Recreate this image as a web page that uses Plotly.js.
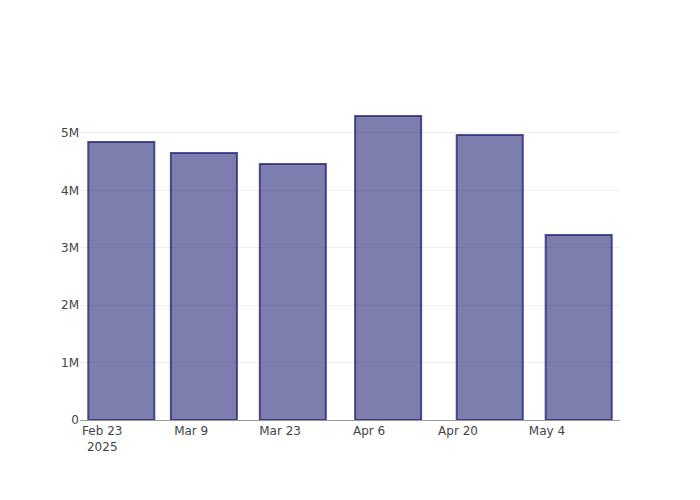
<!DOCTYPE html>
<html>
<head>
<meta charset="utf-8">
<script src="https://cdn.plot.ly/plotly-3.0.1.min.js"></script>
<style>html,body{margin:0;padding:0;background:#fff;}#chart{width:700px;height:500px;}</style>
</head>
<body>
<div id="chart"></div>
<script>
var dates = ['2025-02-26', '2025-03-11', '2025-03-25', '2025-04-09', '2025-04-25', '2025-05-09'];
var values = [4843000, 4650000, 4460000, 5296000, 4965000, 3223000];

var trace = {
  type: 'bar',
  x: dates,
  y: values,
  marker: {
    color: 'rgba(40,40,120,0.6)',
    line: {color: 'rgba(40,40,120,0.8)', width: 2}
  }
};

var layout = {
  width: 700,
  height: 500,
  margin: {l: 80, r: 80, t: 100, b: 80},
  paper_bgcolor: '#fff',
  plot_bgcolor: '#fff',
  font: {family: '"DejaVu Sans", sans-serif', size: 12, color: '#444'},
  xaxis: {
    type: 'date',
    showgrid: false,
    showline: true,
    linecolor: '#999',
    linewidth: 1,
    ticks: '',
    dtick: 14 * 24 * 3600 * 1000,
    tick0: '2025-02-23'
  },
  yaxis: {
    showgrid: true,
    gridcolor: '#eee',
    zeroline: false,
    ticks: '',
    tickformat: '~s'
  },
  showlegend: false
};

Plotly.newPlot('chart', [trace], layout, {displayModeBar: false});
</script>
</body>
</html>
